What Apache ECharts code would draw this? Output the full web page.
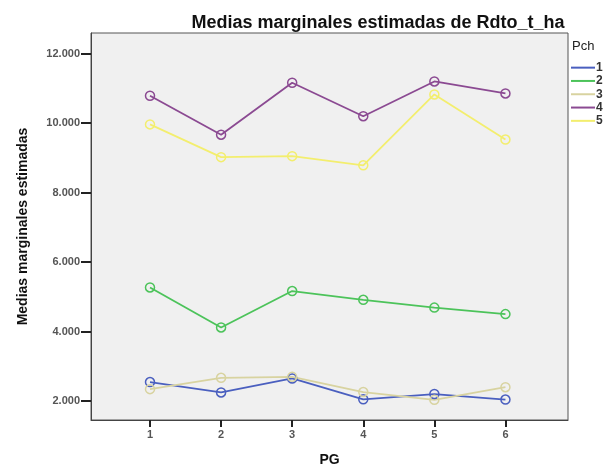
<!DOCTYPE html>
<html>
<head>
<meta charset="utf-8">
<script src="https://cdn.jsdelivr.net/npm/echarts@6/dist/echarts.min.js"></script>
<style>html,body{margin:0;padding:0;background:#fff;}#c{width:606px;height:472px;}</style>
</head>
<body>
<div id="c"></div>
<script>
const pgCategories = [1, 2, 3, 4, 5, 6];
const seriesNames = ['1', '2', '3', '4', '5'];
const pch1 = [2552, 2253, 2656, 2056, 2207, 2048];
const pch2 = [5272, 4122, 5168, 4916, 4692, 4506];
const pch3 = [2347, 2673, 2701, 2263, 2039, 2404];
const pch4 = [10786, 9665, 11159, 10197, 11196, 10851];
const pch5 = [9962, 9020, 9048, 8785, 10823, 9525];
const yTicks = [2000, 4000, 6000, 8000, 10000, 12000];

const colors = ['#4a5fbf', '#4cc35a', '#d8d3a0', '#8b4a92', '#f3ee6e'];
const allData = [pch1, pch2, pch3, pch4, pch5];

const chart = echarts.init(document.getElementById('c'));
const fmt = v => (v / 1000).toFixed(3);

chart.setOption({
  animation: false,
  backgroundColor: '#fff',
  title: {
    text: 'Medias marginales estimadas de Rdto_t_ha',
    left: 373, top: 9, textAlign: 'center',
    textStyle: { fontFamily: 'Liberation Sans', fontSize: 18, fontWeight: 'bold', color: '#111' }
  },
  graphic: [{
    type: 'text', left: 572, top: 40,
    style: { text: 'Pch', font: '13px "Liberation Sans"', fill: '#222' }
  }],
  legend: {
    orient: 'vertical', left: 566, top: 56,
    itemWidth: 24, itemHeight: 2, itemGap: 0,
    icon: 'rect',
    textStyle: { fontFamily: 'Liberation Sans', fontSize: 12, fontWeight: 'bold', color: '#333', lineHeight: 13.3, padding: [0, 0, 0, -4] },
    data: seriesNames.map((n, i) => ({ name: n, itemStyle: { color: colors[i], borderWidth: 0 } }))
  },
  grid: {
    left: 91, top: 33, right: 38, bottom: 42,
    show: true, backgroundColor: '#f0f0f0', borderColor: '#555', borderWidth: 1
  },
  xAxis: {
    type: 'value', min: 0.17, max: 6.88,
    name: 'PG', nameLocation: 'middle', nameGap: 33,
    nameTextStyle: { fontFamily: 'Liberation Sans', fontSize: 14, fontWeight: 'bold', color: '#111' },
    axisLine: { show: true, lineStyle: { color: '#444' } },
    splitLine: { show: false },
    axisTick: { show: true, length: 7, lineStyle: { color: '#222', width: 2 }, customValues: pgCategories },
    axisLabel: { customValues: pgCategories, fontFamily: 'Liberation Sans', fontSize: 11, fontWeight: 'bold', color: '#555', margin: 9 }
  },
  yAxis: {
    type: 'value', min: 1460, max: 12590,
    name: 'Medias marginales estimadas', nameLocation: 'middle', nameGap: 61, nameRotate: 90,
    nameTextStyle: { fontFamily: 'Liberation Sans', fontSize: 14, fontWeight: 'bold', color: '#111' },
    axisLine: { show: true, lineStyle: { color: '#444' } },
    splitLine: { show: false },
    axisTick: { show: true, length: 10, lineStyle: { color: '#222', width: 2 }, customValues: yTicks },
    axisLabel: { customValues: yTicks, formatter: fmt, fontFamily: 'Liberation Sans', fontSize: 11, fontWeight: 'bold', color: '#555', margin: 11 }
  },
  series: allData.map((arr, i) => ({
    name: seriesNames[i],
    type: 'line',
    data: arr.map((v, j) => [pgCategories[j], v]),
    symbol: 'circle', symbolSize: 9,
    itemStyle: { color: 'rgba(0,0,0,0)', borderColor: colors[i], borderWidth: 1.5 },
    lineStyle: { color: colors[i], width: 1.8 },
    color: colors[i]
  }))
});
</script>
</body>
</html>
